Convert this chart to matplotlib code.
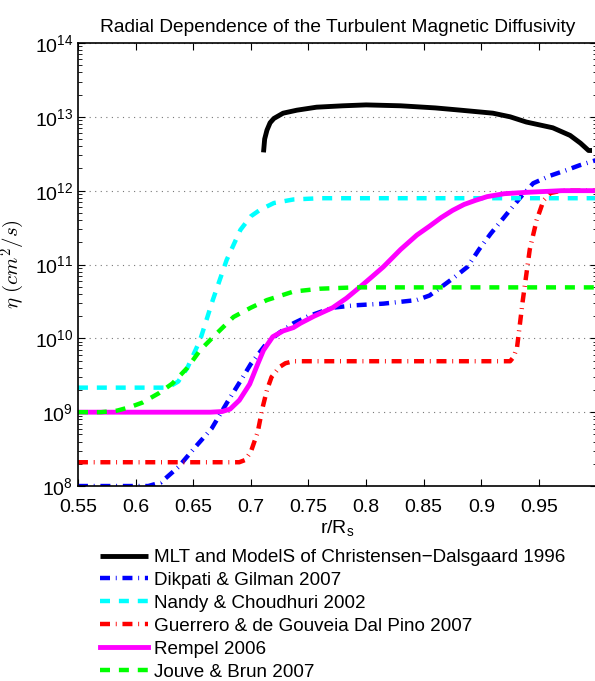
import numpy as np
import matplotlib
matplotlib.use("Agg")
import matplotlib.pyplot as plt
from matplotlib.ticker import LogLocator, NullFormatter

plt.rcParams["font.family"] = ["Liberation Sans", "DejaVu Sans"]
plt.rcParams["mathtext.fontset"] = "cm"

# MLT and ModelS of Christensen-Dalsgaard 1996
r_mlt = [0.711, 0.712, 0.714, 0.7167, 0.72, 0.728, 0.74, 0.757, 0.78, 0.80, 0.83, 0.86,
         0.882, 0.91, 0.925, 0.939, 0.95, 0.962, 0.977, 0.986, 0.993, 0.996]
eta_mlt = [3.3e12, 5.0e12, 6.6e12, 8.3e12, 9.5e12, 1.12e13, 1.23e13, 1.35e13, 1.41e13, 1.45e13,
           1.41e13, 1.32e13, 1.23e13, 1.12e13, 1.0e13, 8.5e12, 7.8e12, 7.1e12, 5.6e12, 4.4e12,
           3.5e12, 3.5e12]

# Dikpati & Gilman 2007
r_dg = [0.55, 0.58, 0.611, 0.622, 0.637, 0.652, 0.666, 0.68, 0.692, 0.70, 0.714, 0.725, 0.737,
        0.75, 0.771, 0.79, 0.815, 0.844, 0.855, 0.864, 0.876, 0.888, 0.898, 0.908, 0.925,
        0.935, 0.945, 0.96, 0.974, 0.985, 1.0]
eta_dg = [1.0e8, 1.0e8, 1.0e8, 1.12e8, 1.8e8, 3.4e8, 6.0e8, 1.4e9, 2.8e9, 4.5e9, 8.7e9, 1.2e10,
          1.6e10, 2.0e10, 2.6e10, 2.8e10, 2.95e10, 3.3e10, 3.8e10, 4.8e10, 6.6e10, 9.3e10,
          1.6e11, 2.6e11, 5.5e11, 8.5e11, 1.26e12, 1.6e12, 1.9e12, 2.2e12, 2.6e12]

# Nandy & Choudhuri 2002
r_nc = [0.55, 0.628, 0.637, 0.645, 0.656, 0.667, 0.679, 0.691, 0.70, 0.708, 0.72, 0.737, 0.76, 1.0]
eta_nc = [2.15e9, 2.15e9, 2.6e9, 4.0e9, 9.5e9, 3.3e10, 1.15e11, 2.95e11, 4.5e11, 5.5e11,
          6.8e11, 7.6e11, 7.9e11, 7.9e11]

# Guerrero & de Gouveia Dal Pino 2007
r_gg = [0.55, 0.69, 0.695, 0.70, 0.706, 0.71, 0.714, 0.718, 0.725, 0.73, 0.737, 0.925, 0.928,
        0.931, 0.936, 0.942, 0.948, 0.954, 0.96, 0.97, 1.0]
eta_gg = [2.1e8, 2.1e8, 2.25e8, 2.9e8, 5.4e8, 1.12e9, 2.0e9, 3.0e9, 4.1e9, 4.6e9, 4.9e9, 4.9e9,
          5.6e9, 7.6e9, 3.3e10, 1.6e11, 4.0e11, 7.4e11, 9.3e11, 1.0e12, 1.0e12]

# Rempel 2006
r_re = [0.55, 0.665, 0.675, 0.682, 0.69, 0.699, 0.706, 0.711, 0.719, 0.728, 0.737, 0.743, 0.755,
        0.771, 0.783, 0.795, 0.805, 0.815, 0.83, 0.844, 0.855, 0.865, 0.875, 0.885, 0.895,
        0.905, 0.92, 0.94, 0.97, 1.0]
eta_re = [1.0e9, 1.0e9, 1.02e9, 1.1e9, 1.45e9, 2.4e9, 4.5e9, 6.9e9, 1.05e10, 1.26e10, 1.4e10,
          1.6e10, 2.0e10, 2.6e10, 3.5e10, 5.0e10, 6.8e10, 9.3e10, 1.6e11, 2.5e11, 3.3e11,
          4.3e11, 5.4e11, 6.5e11, 7.4e11, 8.3e11, 9.1e11, 9.5e11, 1.0e12, 1.0e12]

# Jouve & Brun 2007
r_jb = [0.55, 0.57, 0.584, 0.595, 0.606, 0.62, 0.632, 0.645, 0.656, 0.67, 0.685, 0.70, 0.714,
        0.737, 0.76, 0.79, 1.0]
eta_jb = [1.0e9, 1.0e9, 1.05e9, 1.17e9, 1.35e9, 1.8e9, 2.45e9, 4.0e9, 6.9e9, 1.15e10, 1.95e10,
          2.6e10, 3.3e10, 4.3e10, 4.7e10, 4.9e10, 4.9e10]

labels = ["MLT and ModelS of Christensen\u2212Dalsgaard 1996",
          "Dikpati & Gilman 2007",
          "Nandy & Choudhuri 2002",
          "Guerrero & de Gouveia Dal Pino 2007",
          "Rempel 2006",
          "Jouve & Brun 2007"]

fig = plt.figure(figsize=(5.95, 6.81), dpi=100)
ax = fig.add_axes([0.131, 0.2863, 0.8717, 0.6506])

lw_solid = 3.5
lw_dash = 3.2
dashdot = (2.25, 1.3, 0.2, 1.3)
dash = (2.25, 2.0)

ax.plot(r_mlt, eta_mlt, color="black", lw=lw_solid, label=labels[0], solid_capstyle="butt")
ax.plot(r_dg, eta_dg, color="blue", lw=lw_dash, dashes=dashdot, dash_capstyle="butt", label=labels[1])
ax.plot(r_nc, eta_nc, color="cyan", lw=lw_dash, dashes=dash, dash_capstyle="butt", label=labels[2])
ax.plot(r_gg, eta_gg, color="red", lw=lw_dash, dashes=dashdot, dash_capstyle="butt", label=labels[3])
ax.plot(r_re, eta_re, color="magenta", lw=lw_solid, label=labels[4])
ax.plot(r_jb, eta_jb, color="lime", lw=lw_dash, dashes=dash, dash_capstyle="butt", label=labels[5])

ax.set_yscale("log")
ax.set_xlim(0.55, 1.0)
ax.set_ylim(1e8, 1e14)
ax.set_xticks([0.55, 0.6, 0.65, 0.7, 0.75, 0.8, 0.85, 0.9, 0.95])
ax.set_xticklabels(["0.55", "0.6", "0.65", "0.7", "0.75", "0.8", "0.85", "0.9", "0.95"])
ax.yaxis.set_major_locator(LogLocator(base=10, numticks=10))
ax.yaxis.set_minor_locator(LogLocator(base=10, subs=np.arange(2, 10), numticks=10))
ax.yaxis.set_minor_formatter(NullFormatter())

ax.tick_params(which="both", direction="in", top=True, right=True, labelsize=14)
ax.tick_params(which="major", length=5, width=0.8)
ax.tick_params(which="minor", length=3, width=0.6)
ax.tick_params(axis="x", pad=9)
for s in ax.spines.values():
    s.set_linewidth(1.2)

ax.grid(True, axis="y", which="major", linestyle=(0, (1, 4)), color="#777777", linewidth=0.8)

ax.set_title("Radial Dependence of the Turbulent Magnetic Diffusivity", fontsize=13.8, pad=8)
ax.set_xlabel("r/R$_\\mathregular{s}$", fontsize=14, labelpad=2)
ax.set_ylabel(r"$\eta\ (cm^2/s)$", fontsize=15)
ax.yaxis.set_label_coords(-0.098, 0.5)

fig.legend(loc="upper left", bbox_to_anchor=(0.155, 0.205), frameon=False, fontsize=13.6,
           handlelength=2.55, handletextpad=0.3, labelspacing=0.3, borderaxespad=0)

fig.savefig("out.png", dpi=100)
